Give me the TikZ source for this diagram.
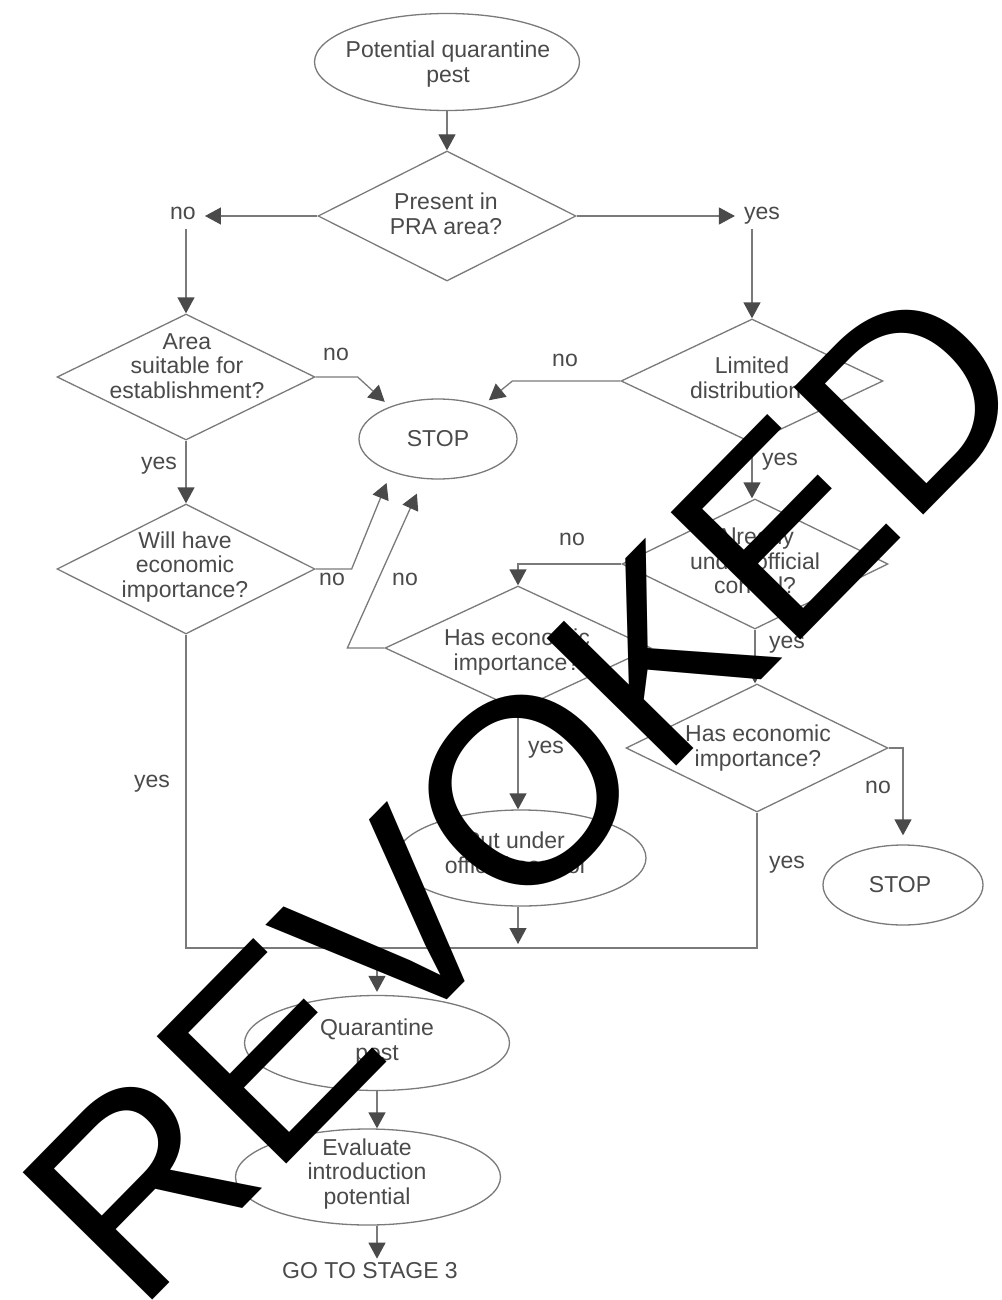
\documentclass[tikz,border=0pt]{standalone}
\usepackage{fontspec}
\setmainfont{Liberation Sans}
\usetikzlibrary{shapes.geometric,arrows.meta}
\definecolor{ink}{HTML}{4A4A4A}
\definecolor{wirecol}{HTML}{7A7A7A}

\begin{document}
\begin{tikzpicture}[x=1pt,y=-1pt,>={Triangle[length=16pt,width=17pt,color=ink]},
  every node/.style={text=ink,font=\fontsize{23}{24.5}\selectfont},
  box/.style={ellipse,draw=wirecol,line width=1.3pt,inner sep=0pt},
  decision/.style={diamond,draw=wirecol,line width=1.3pt,inner sep=0pt},
  txt/.style={align=center,inner sep=0pt},
  lbl/.style={inner xsep=9pt,inner ysep=4pt,text height=12pt,text depth=5pt},
  link/.style={draw=wirecol,line width=1.3pt}]
\useasboundingbox (0,0) rectangle (1001,1300);
\fill[white] (0,0) rectangle (1001,1300);
\clip (0,0) rectangle (1001,1300);

\node[box,minimum width=265pt,minimum height=97pt] (pqp) at (447,62) {};
\node[txt] (pqpT) at (448,64) {Potential quarantine\\pest};
\node[decision,minimum width=258pt,minimum height=130pt] (present) at (447,216) {};
\node[txt] (presentT) at (446,214) {Present in\\PRA area?};
\node[decision,minimum width=258pt,minimum height=126pt] (area) at (186,377) {};
\node[txt] (areaT) at (187,366) {Area\\suitable for\\establishment?};
\node[box,minimum width=158pt,minimum height=80pt] (stop1) at (438,439) {};
\node[txt] (stop1T) at (438,439) {STOP};
\node[decision,minimum width=258pt,minimum height=130pt] (will) at (186,569) {};
\node[txt] (willT) at (185,567) {Will have\\economic\\importance?};
\node[decision,minimum width=262pt,minimum height=124pt] (limited) at (752,381) {};
\node[txt] (limitedT) at (752,378) {Limited\\distribution?};
\node[decision,minimum width=266pt,minimum height=130pt] (already) at (755,564) {};
\node[txt] (alreadyT) at (755,561) {Already\\under official\\control?};
\node[decision,minimum width=266pt,minimum height=124pt] (hasL) at (518,648) {};
\node[txt] (hasLT) at (517,652) {Has economic\\importance?};
\node[decision,minimum width=262pt,minimum height=128pt] (hasR) at (757,748) {};
\node[txt] (hasRT) at (758,748) {Has economic\\importance?};
\node[box,minimum width=250pt,minimum height=96pt] (putctl) at (521,858) {};
\node[txt] (putctlT) at (515,853) {Put under\\official control};
\node[box,minimum width=160pt,minimum height=80pt] (stop2) at (903,885) {};
\node[txt] (stop2T) at (900,885) {STOP};
\node[box,minimum width=265pt,minimum height=95pt] (quar) at (377,1043) {};
\node[txt] (quarT) at (377,1042) {Quarantine\\pest};
\node[box,minimum width=265pt,minimum height=96pt] (eval) at (368,1177) {};
\node[txt] (evalT) at (367,1174) {Evaluate\\introduction\\potential};
\node[txt,inner sep=4pt] (go) at (370,1271) {GO TO STAGE 3};

\node[lbl] (no1) at (183,216) {no};
\node[lbl] (yes1) at (762,216) {yes};
\node[lbl] (noA) at (336,357) {no};
\node[lbl] (yesA) at (159,466) {yes};
\node[lbl] (noW) at (332,582) {no};
\node[lbl] (yesW) at (152,784) {yes};
\node[lbl] (noL) at (565,363) {no};
\node[lbl] (yesL) at (780,462) {yes};
\node[lbl] (noC) at (572,542) {no};
\node[lbl] (yesC) at (787,645) {yes};
\node[lbl] (noH) at (405,582) {no};
\node[lbl] (yesH) at (546,750) {yes};
\node[lbl] (noE) at (878,790) {no};
\node[lbl] (yesE) at (787,865) {yes};
\coordinate (join) at (377,948);

\draw[link,->] (pqp) -- (present);
\draw[link,->] (present.west) -- (no1.east);
\draw[link,->] (present.east) -- (yes1.west);
\draw[link,->] (no1.south -| area.north) -- (area.north);
\draw[link,->] (yes1.south -| limited.north) -- (limited.north);
\draw[link,->,shorten >=7pt] (area.east) -- ++(42,0) -- (stop1.146);
\draw[link,->] (area.south) -- (will.north);
\draw[link,->,shorten >=12pt] (will.east) -- ++(36,0) -- (stop1.215);
\draw[link,->,shorten >=16pt] (hasL.west) -- ++(-37,0) -- (stop1.250);
\draw[link,->,shorten >=8pt] (limited.west) -- ++(-108,0) -- (stop1.37);
\draw[link,->] (limited.south) -- (limited.south |- already.north);
\draw[link,->] (already.west) -| (hasL.north);
\draw[link,->] (already.south) -- (already.south |- hasR.north);
\draw[link,->] (hasL.south) -- (hasL.south |- putctl.north);
\draw[link,->,shorten >=9pt] (hasR.east) -| (stop2.north);
\draw[link] (will.south) |- (join) -| (hasR.south);
\draw[link,->,shorten >=4pt] (putctl.south -| hasL.south) -- (hasL.south |- join);
\draw[link,->,shorten >=3pt] (join) -- (quar.north);
\draw[link,->] (quar.south) -- (quar.south |- eval.north);
\draw[link,->] (quar.south |- eval.south) -- (quar.south |- go.north);

\node[text=black,rotate=45.5,inner sep=0pt,font=\fontsize{264}{264}\selectfont] (stamp) at (525,791) {REVOKED};
\end{tikzpicture}
\end{document}
